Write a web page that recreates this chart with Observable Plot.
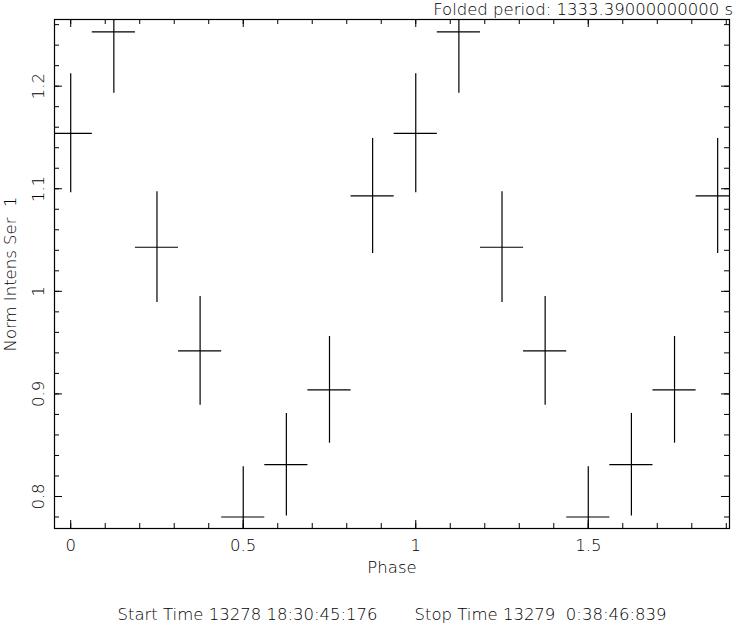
<!DOCTYPE html>
<html><head><meta charset="utf-8">
<script src="https://cdn.jsdelivr.net/npm/d3@7"></script>
<script src="https://cdn.jsdelivr.net/npm/@observablehq/plot@0.6"></script>
<style>
body{margin:0;background:#fff}
svg text{white-space:pre}
</style>
</head><body><div id="chart"></div>
<script>
const phase = [0, 0.125, 0.25, 0.375, 0.5, 0.625, 0.75, 0.875, 1, 1.125, 1.25, 1.375, 1.5, 1.625, 1.75, 1.875];
const intensity = [1.154, 1.253, 1.043, 0.942, 0.780, 0.831, 0.904, 1.093, 1.154, 1.253, 1.043, 0.942, 0.780, 0.831, 0.904, 1.093];
const intensityErr = [0.058, 0.060, 0.054, 0.053, 0.049, 0.050, 0.052, 0.056, 0.058, 0.060, 0.054, 0.053, 0.049, 0.050, 0.052, 0.056];
const phaseHalfWidth = [0.0625, 0.0625, 0.0625, 0.0625, 0.0625, 0.0625, 0.0625, 0.0625, 0.0625, 0.0625, 0.0625, 0.0625, 0.0625, 0.0625, 0.0625, 0.0625];

const xMajorTicks = [0, 0.5, 1, 1.5];
const xMinorTicks = [0, 0.1, 0.2, 0.3, 0.4, 0.5, 0.6, 0.7, 0.8, 0.9, 1, 1.1, 1.2, 1.3, 1.4, 1.5, 1.6, 1.7, 1.8, 1.9];
const yMajorTicks = [0.8, 0.9, 1, 1.1, 1.2];
const yMinorTicks = [0.78, 0.8, 0.82, 0.84, 0.86, 0.88, 0.9, 0.92, 0.94, 0.96, 0.98, 1, 1.02, 1.04, 1.06, 1.08, 1.1, 1.12, 1.14, 1.16, 1.18, 1.2, 1.22, 1.24, 1.26];

const titleText = ["Folded period: 1333.39000000000 s"];
const xLabel = ["Phase"];
const yLabel = ["Norm Intens Ser  1"];
const captionStart = ["Start Time 13278 18:30:45:176"];
const captionStop = ["Stop Time 13279  0:38:46:839"];

const data = phase.map((p, i) => ({
  phase: p,
  value: intensity[i],
  lo: intensity[i] - intensityErr[i],
  hi: intensity[i] + intensityErr[i],
  x1: p - phaseHalfWidth[i],
  x2: p + phaseHalfWidth[i]
}));

const W = 734, H = 623, mL = 54, mR = 5, mT = 19, mB = 95;
const plotW = W - mL - mR, plotH = H - mT - mB;
const major = 8, minor = 5;
const fmt = d => `${d}`;

const chart = Plot.plot({
  width: W, height: H,
  marginLeft: mL, marginRight: mR, marginTop: mT, marginBottom: mB,
  style: {fontFamily: "'DejaVu Sans', sans-serif", fontSize: "16.5px", fontWeight: 200, background: "white", color: "black"},
  x: {domain: [-0.047, 1.9093]},
  y: {domain: [0.7688, 1.265]},
  marks: [
    Plot.ruleX(data, {x: "phase", y1: "lo", y2: "hi", stroke: "black", strokeWidth: 1.2, clip: true}),
    Plot.ruleY(data, {y: "value", x1: "x1", x2: "x2", stroke: "black", strokeWidth: 1.2, clip: true}),
    // ticks inward on all four sides
    Plot.tickX(xMinorTicks, {x: d => d, insetTop: plotH - minor, stroke: "black"}),
    Plot.tickX(xMajorTicks, {x: d => d, insetTop: plotH - major, stroke: "black"}),
    Plot.tickX(xMinorTicks, {x: d => d, insetBottom: plotH - minor, stroke: "black"}),
    Plot.tickX(xMajorTicks, {x: d => d, insetBottom: plotH - major, stroke: "black"}),
    Plot.tickY(yMinorTicks, {y: d => d, insetRight: plotW - minor, stroke: "black"}),
    Plot.tickY(yMajorTicks, {y: d => d, insetRight: plotW - major, stroke: "black"}),
    Plot.tickY(yMinorTicks, {y: d => d, insetLeft: plotW - minor, stroke: "black"}),
    Plot.tickY(yMajorTicks, {y: d => d, insetLeft: plotW - major, stroke: "black"}),
    Plot.axisX(xMajorTicks, {anchor: "bottom", tickSize: 0, tickPadding: 11, tickFormat: fmt, fill: "black"}),
    Plot.axisY(yMajorTicks, {anchor: "left", tickSize: 0, tickRotate: -90, tickPadding: 11, tickFormat: fmt, fill: "black"}),
    Plot.frame({stroke: "black", strokeWidth: 1.2}),
    Plot.text(titleText, {frameAnchor: "top-right", textAnchor: "end", lineAnchor: "bottom", dx: 3.5, dy: -5, fill: "black"}),
    Plot.text(xLabel, {frameAnchor: "bottom", lineAnchor: "bottom", dy: 44, fill: "black"}),
    Plot.text(yLabel, {frameAnchor: "left", rotate: -90, textAnchor: "middle", lineAnchor: "bottom", dx: -39, fill: "black"}),
    Plot.text(captionStart, {frameAnchor: "bottom-left", textAnchor: "start", lineAnchor: "bottom", dx: 63, dy: 91, fill: "black"}),
    Plot.text(captionStop, {frameAnchor: "bottom-left", textAnchor: "start", lineAnchor: "bottom", dx: 360, dy: 91, fill: "black"})
  ]
});
document.getElementById("chart").appendChild(chart);
</script>
</body></html>
